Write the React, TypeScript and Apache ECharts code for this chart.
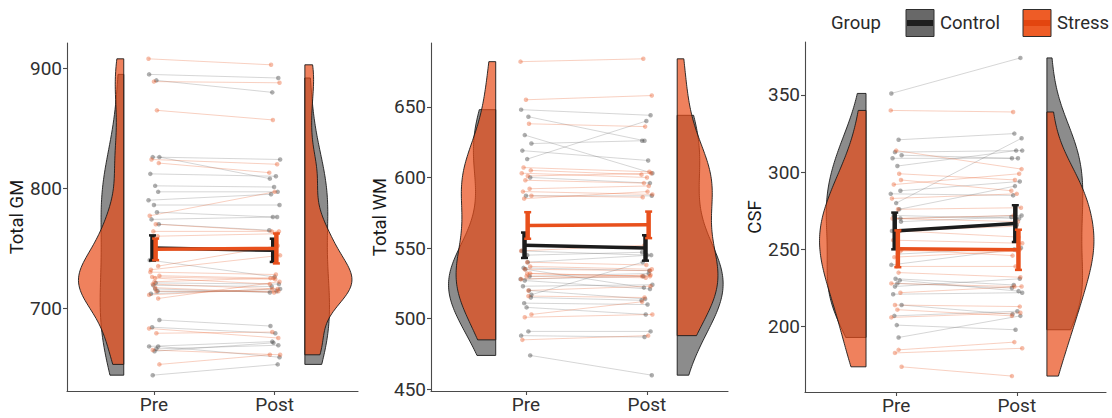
import React, { useEffect, useRef } from "react";
import * as echarts from "echarts";

const timepoints = ["Pre", "Post"];
const groups = ["Control", "Stress"];

// Total GM
const gmControlPre = [895, 890, 826, 826, 812, 802, 797, 790, 786, 780, 774, 770, 740, 721, 719, 714, 712, 690, 684, 664, 666, 668, 668, 644, 716];
const gmControlPost = [892, 880, 824, 808, 810, 801, 797, 795, 786, 776, 776, 765, 726, 720, 718, 714, 716, 685, 679, 671, 669, 672, 659, 653, 713];
const gmStressPre = [908, 889, 865, 824, 821, 777, 770, 764, 760, 732, 727, 726, 722, 714, 711, 708, 720, 725, 683, 679, 665, 653, 730, 717, 735];
const gmStressPost = [903, 888, 857, 820, 813, 797, 764, 764, 762, 744, 725, 724, 725, 714, 716, 722, 716, 720, 675, 680, 661, 661, 728, 713, 752];
// error bar half-widths: [Control [Pre, Post], Stress [Pre, Post]]
const gmErr = [[10.5, 9.7], [9, 12.5]];

// Total WM
const wmControlPre = [648, 643, 630, 624, 619, 613, 600, 528, 587, 520, 536, 515, 548, 540, 535, 530, 523, 517, 511, 508, 491, 488, 474, 527, 545];
const wmControlPost = [644, 626, 603, 626, 612, 640, 596, 530, 587, 514, 534, 513, 545, 545, 522, 532, 524, 540, 510, 503, 491, 487, 460, 521, 547];
const wmStressPre = [682, 655, 638, 607, 605, 603, 601, 598, 592, 590, 587, 585, 530, 520, 548, 537, 535, 532, 528, 516, 501, 503, 485, 540, 532];
const wmStressPost = [684, 658, 636, 604, 602, 600, 603, 596, 594, 588, 586, 590, 529, 523, 552, 535, 534, 530, 531, 515, 503, 512, 488, 538, 530];
const wmErr = [[9, 9], [9.4, 9.4]];

// CSF
const csfControlPre = [351, 321, 313, 311, 309, 304, 288, 286, 280, 276, 272, 268, 262, 247, 231, 230, 221, 214, 207, 201, 193, 240, 270, 226, 228];
const csfControlPost = [374, 325, 314, 309, 309, 314, 294, 285, 322, 291, 270, 271, 266, 251, 227, 223, 222, 208, 210, 198, 207, 250, 272, 231, 225];
const csfStressPre = [340, 314, 299, 292, 295, 283, 276, 270, 262, 256, 250, 245, 239, 235, 228, 222, 214, 211, 206, 185, 183, 174, 270, 262, 249];
const csfStressPost = [339, 302, 295, 299, 288, 286, 277, 272, 258, 254, 246, 249, 239, 232, 226, 226, 213, 207, 209, 190, 186, 168, 268, 265, 250];
const csfErr = [[11.9, 11.9], [11.9, 13]];

const yTicksGM = [700, 800, 900];
const yTicksWM = [450, 500, 550, 600, 650];
const yTicksCSF = [200, 250, 300, 350];

// horizontal jitter of the individual points (x units)
const jitterPre = [-0.04, 0.02, -0.01, 0.045, -0.03, 0.01, 0.035, -0.045, 0.0, 0.025, -0.02, 0.04, -0.035, 0.015, -0.005, 0.03, -0.025, 0.045, -0.015, 0.005, 0.02, -0.04, 0.035, -0.01, 0.01];
const jitterPost = [0.03, -0.02, 0.045, -0.04, 0.01, -0.005, 0.025, -0.03, 0.04, -0.015, 0.02, -0.045, 0.0, 0.035, -0.025, 0.015, 0.045, -0.035, 0.005, -0.01, 0.03, -0.02, 0.04, 0.025, -0.04];

const panelsData = [
  { title: "Total GM", ticks: yTicksGM, err: gmErr, data: [[gmControlPre, gmControlPost], [gmStressPre, gmStressPost]] },
  { title: "Total WM", ticks: yTicksWM, err: wmErr, data: [[wmControlPre, wmControlPost], [wmStressPre, wmStressPost]] },
  { title: "CSF", ticks: yTicksCSF, err: csfErr, data: [[csfControlPre, csfControlPost], [csfStressPre, csfStressPost]] },
];

const layout = [
  { grid: { left: 67, top: 43, width: 291, height: 348 }, xMin: 0.28, xMax: 2.69, nameGap: 37 },
  { grid: { left: 431, top: 43, width: 297, height: 348 }, xMin: 0.215, xMax: 2.67, nameGap: 42 },
  { grid: { left: 805, top: 42, width: 301, height: 350 }, xMin: 0.244, xMax: 2.74, nameGap: 38 },
];

const FONT = "Roboto";
const violinFill = ["rgba(102,102,102,0.75)", "rgba(232,76,24,0.7)"];
const pointColor = ["rgba(70,70,70,0.55)", "rgba(232,90,40,0.5)"];
const pairColor = ["rgba(90,90,90,0.28)", "rgba(232,90,40,0.32)"];
const meanColor = ["#1c1c1c", "#e8501c"];
const dodge = [-0.012, 0.014];

function mean(v: number[]) {
  return v.reduce((a, b) => a + b, 0) / v.length;
}

function density(vals: number[]) {
  const n = vals.length;
  const s = [...vals].sort((a, b) => a - b);
  const q = (p: number) => {
    const h = (n - 1) * p;
    const lo = Math.floor(h);
    return s[lo] + (h - lo) * (s[Math.min(lo + 1, n - 1)] - s[lo]);
  };
  const m = mean(vals);
  const sd = Math.sqrt(vals.reduce((a, b) => a + (b - m) * (b - m), 0) / (n - 1));
  const iqr = q(0.75) - q(0.25);
  const bw = 1.15 * 0.9 * Math.min(sd, iqr / 1.34) * Math.pow(n, -0.2);
  const lo = s[0];
  const hi = s[n - 1];
  const pts: number[][] = [];
  const steps = 120;
  for (let i = 0; i <= steps; i++) {
    const y = lo + ((hi - lo) * i) / steps;
    let d = 0;
    for (const v of vals) {
      const z = (y - v) / bw;
      d += Math.exp(-0.5 * z * z);
    }
    d /= n * bw * Math.sqrt(2 * Math.PI);
    pts.push([y, d]);
  }
  return pts;
}

function buildOption() {
  const grids: any[] = [];
  const xAxes: any[] = [];
  const yAxes: any[] = [];
  const series: any[] = [];

  panelsData.forEach((panel, pi) => {
    const L = layout[pi];
    const all = panel.data.flat(2) as number[];
    const dmin = Math.min(...all);
    const dmax = Math.max(...all);
    const pad = (dmax - dmin) * 0.05;
    grids.push({ ...L.grid, outerBoundsMode: "none", containLabel: false });
    const axisLineStyle = { color: "#4a4a4a", width: 1.1 };
    xAxes.push({
      gridIndex: pi,
      type: "value",
      min: L.xMin,
      max: L.xMax,
      axisLine: { show: true, lineStyle: axisLineStyle },
      axisTick: { show: true, customValues: [1, 2], length: 4, lineStyle: axisLineStyle },
      axisLabel: {
        customValues: [1, 2],
        formatter: (v: number) => timepoints[Math.round(v) - 1],
        fontSize: 19,
        fontFamily: FONT,
        color: "#303030",
        margin: 4,
      },
      splitLine: { show: false },
    });
    yAxes.push({
      gridIndex: pi,
      type: "value",
      min: dmin - pad,
      max: dmax + pad,
      name: panel.title,
      nameLocation: "middle",
      nameGap: L.nameGap,
      nameTextStyle: { fontSize: 18.5, fontFamily: FONT, color: "#1a1a1a" },
      axisLine: { show: true, lineStyle: axisLineStyle },
      axisTick: { show: true, customValues: panel.ticks, length: 4, lineStyle: axisLineStyle },
      axisLabel: { customValues: panel.ticks, fontSize: 19, fontFamily: FONT, color: "#303030", margin: 5 },
      splitLine: { show: false },
    });

    // densities (scale = area across the panel)
    const dens = [0, 1].map((t) => [0, 1].map((g) => density(panel.data[g][t])));
    let maxD = 0;
    dens.forEach((row) => row.forEach((d) => d.forEach((p) => (maxD = Math.max(maxD, p[1])))));
    const maxWidth = 0.39;

    const violinItems: any[] = [];
    [0, 1].forEach((t) =>
      [0, 1].forEach((g) => {
        violinItems.push([t === 0 ? 0.75 : 2.25, (dmin + dmax) / 2, t, g]);
      })
    );
    series.push({
      type: "custom",
      xAxisIndex: pi,
      yAxisIndex: pi,
      z: 1,
      silent: true,
      encode: { x: 0, y: 1 },
      data: violinItems,
      renderItem: (params: any, api: any) => {
        const t = api.value(2);
        const g = api.value(3);
        const d = dens[t][g];
        const edge = t === 0 ? 0.75 : 2.25;
        const dir = t === 0 ? -1 : 1;
        const pts: number[][] = [];
        pts.push(api.coord([edge, d[0][0]]));
        d.forEach((p) => pts.push(api.coord([edge + (dir * p[1] * maxWidth) / maxD, p[0]])));
        pts.push(api.coord([edge, d[d.length - 1][0]]));
        return {
          type: "polygon",
          shape: { points: pts },
          style: { fill: violinFill[g], stroke: "#1a1a1a", lineWidth: 0.9 },
        };
      },
    });

    // paired lines + points
    [0, 1].forEach((g) => {
      const pre = panel.data[g][0];
      const post = panel.data[g][1];
      const sh = g === 0 ? 0 : 7;
      const pairItems = pre.map((v, i) => {
        const j = (i + sh) % jitterPre.length;
        return [1 + jitterPre[j], v, 2 + jitterPost[j], post[i]];
      });
      series.push({
        type: "custom",
        xAxisIndex: pi,
        yAxisIndex: pi,
        z: 2,
        silent: true,
        encode: { x: [0, 2], y: [1, 3] },
        data: pairItems,
        renderItem: (params: any, api: any) => {
          const a = api.coord([api.value(0), api.value(1)]);
          const b = api.coord([api.value(2), api.value(3)]);
          return {
            type: "line",
            shape: { x1: a[0], y1: a[1], x2: b[0], y2: b[1] },
            style: { stroke: pairColor[g], lineWidth: 0.9 },
          };
        },
      });
      const pts: number[][] = [];
      pairItems.forEach((p) => {
        pts.push([p[0], p[1]]);
        pts.push([p[2], p[3]]);
      });
      series.push({
        type: "scatter",
        xAxisIndex: pi,
        yAxisIndex: pi,
        z: 3,
        silent: true,
        symbolSize: 4.5,
        itemStyle: { color: pointColor[g] },
        data: pts,
      });
    });

    // means + error bars
    [0, 1].forEach((g) => {
      const mPre = mean(panel.data[g][0]);
      const mPost = mean(panel.data[g][1]);
      const e = panel.err[g];
      series.push({
        type: "line",
        xAxisIndex: pi,
        yAxisIndex: pi,
        z: 4 + g * 2,
        silent: true,
        symbol: "none",
        lineStyle: { color: meanColor[g], width: 3.5 },
        data: [
          [1 + dodge[g], mPre],
          [2 + dodge[g], mPost],
        ],
      });
      series.push({
        type: "custom",
        xAxisIndex: pi,
        yAxisIndex: pi,
        z: 5 + g * 2,
        silent: true,
        encode: { x: 0, y: 1 },
        data: [
          [1 + dodge[g], mPre, mPre - e[0], mPre + e[0]],
          [2 + dodge[g], mPost, mPost - e[1], mPost + e[1]],
        ],
        renderItem: (params: any, api: any) => {
          const x = api.value(0);
          const lo = api.coord([x, api.value(2)]);
          const hi = api.coord([x, api.value(3)]);
          const cw = 3.5;
          return {
            type: "group",
            children: [
              { type: "line", shape: { x1: lo[0], y1: lo[1], x2: hi[0], y2: hi[1] }, style: { stroke: meanColor[g], lineWidth: 4.5 } },
              { type: "line", shape: { x1: lo[0] - cw, y1: lo[1], x2: lo[0] + cw, y2: lo[1] }, style: { stroke: meanColor[g], lineWidth: 2.5 } },
              { type: "line", shape: { x1: hi[0] - cw, y1: hi[1], x2: hi[0] + cw, y2: hi[1] }, style: { stroke: meanColor[g], lineWidth: 2.5 } },
            ],
          };
        },
      });
    });
  });

  const legendText = (x: number, text: string) => ({
    type: "text",
    x,
    y: 23,
    style: { text, fontSize: 18.5, fontFamily: FONT, fill: "#2a2a2a", verticalAlign: "middle", align: "left" },
  });
  const graphic = [
    legendText(831, "Group"),
    { type: "rect", shape: { x: 906, y: 9.5, width: 28, height: 27 }, style: { fill: "#686868", stroke: "#2e2e2e", lineWidth: 1 } },
    { type: "line", shape: { x1: 907, y1: 23, x2: 933, y2: 23 }, style: { stroke: "#1e1e1e", lineWidth: 6 } },
    legendText(940, groups[0]),
    { type: "rect", shape: { x: 1023, y: 9.5, width: 28, height: 27 }, style: { fill: "#ee5c26", stroke: "#2e2e2e", lineWidth: 1 } },
    { type: "line", shape: { x1: 1024, y1: 23, x2: 1050, y2: 23 }, style: { stroke: "#e3450f", lineWidth: 6 } },
    legendText(1057, groups[1]),
  ];

  return {
    animation: false,
    backgroundColor: "#ffffff",
    grid: grids,
    xAxis: xAxes,
    yAxis: yAxes,
    series,
    graphic,
  };
}

export default function App() {
  const ref = useRef<HTMLDivElement>(null);
  useEffect(() => {
    if (!ref.current) return;
    const chart = echarts.init(ref.current, null, { renderer: "svg" });
    chart.setOption(buildOption() as any);
    return () => chart.dispose();
  }, []);
  return <div ref={ref} style={{ position: "absolute", left: 0, top: 0, width: 1112, height: 418 }} />;
}
